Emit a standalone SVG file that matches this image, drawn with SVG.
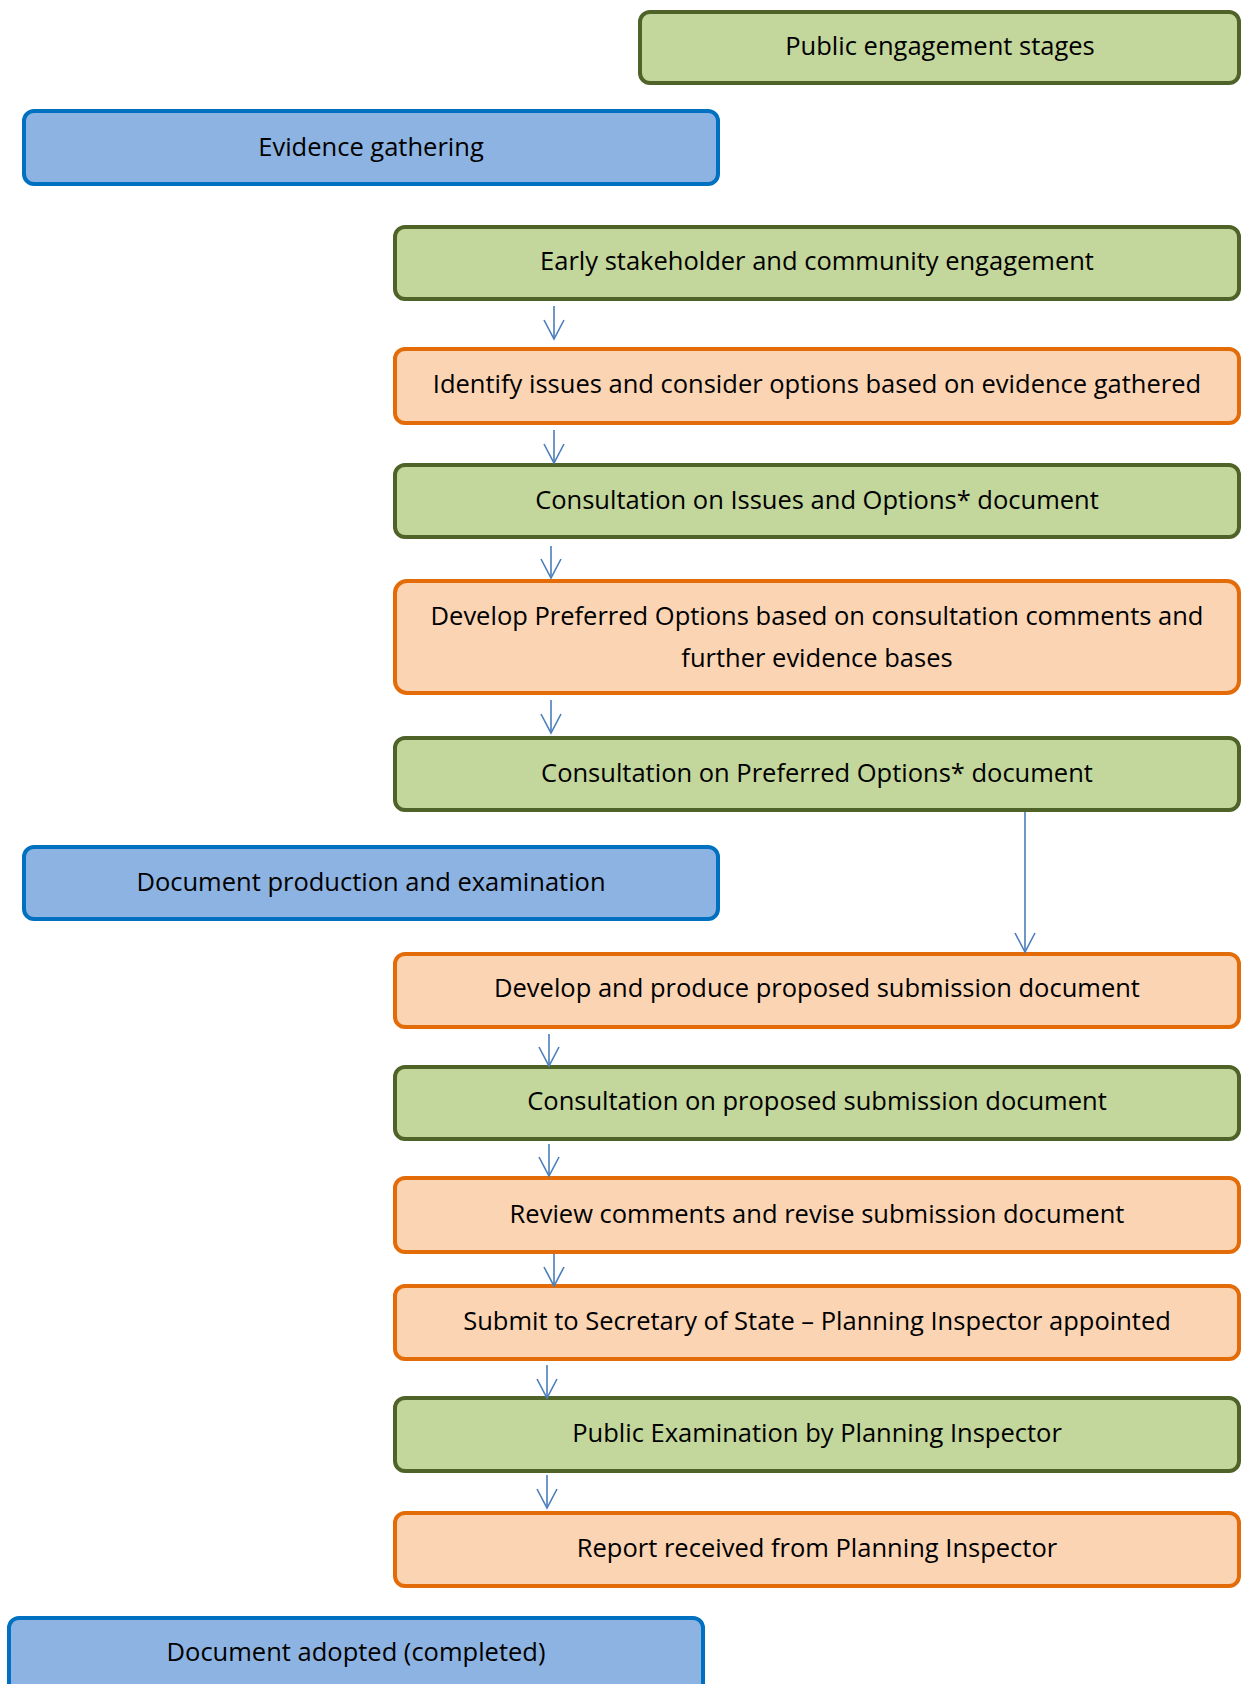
<svg xmlns="http://www.w3.org/2000/svg" width="1243" height="1684" viewBox="0 0 1243 1684">
<style>
.g{fill:#C3D69B;stroke:#4F6228;stroke-width:4}
.o{fill:#FBD4B4;stroke:#E36C09;stroke-width:4}
.b{fill:#8DB3E2;stroke:#0070C0;stroke-width:4}
text{font-family:"Open Sans","Noto Sans",sans-serif;font-size:25.5px;fill:#000;text-anchor:middle}
.c line{stroke:#4A7EBB;stroke-width:1.6}
.c path{fill:none;stroke:#4A7EBB;stroke-width:1.6}
</style>
<rect width="1243" height="1684" fill="#fff"/>
<g id="n_public"><rect class="g" x="640" y="12" width="599" height="71" rx="10"/><text x="940" y="55">Public engagement stages</text></g>
<g id="n_evidence"><rect class="b" x="24" y="111" width="694" height="73" rx="10"/><text x="371" y="156">Evidence gathering</text></g>
<g id="n_early"><rect class="g" x="395" y="227" width="844" height="72" rx="10"/><text x="817" y="270">Early stakeholder and community engagement</text></g>
<g id="n_identify"><rect class="o" x="395" y="349" width="844" height="74" rx="10"/><text x="817" y="393">Identify issues and consider options based on evidence gathered</text></g>
<g id="n_cons_io"><rect class="g" x="395" y="465" width="844" height="72" rx="10"/><text x="817" y="509">Consultation on Issues and Options* document</text></g>
<g id="n_develop_pref"><rect class="o" x="395" y="581" width="844" height="112" rx="12"/><text x="817" y="625">Develop Preferred Options based on consultation comments and</text><text x="817" y="667">further evidence bases</text></g>
<g id="n_cons_pref"><rect class="g" x="395" y="738" width="844" height="72" rx="10"/><text x="817" y="782">Consultation on Preferred Options* document</text></g>
<g id="n_docprod"><rect class="b" x="24" y="847" width="694" height="72" rx="10"/><text x="371" y="891">Document production and examination</text></g>
<g id="n_develop_sub"><rect class="o" x="395" y="954" width="844" height="73" rx="10"/><text x="817" y="997">Develop and produce proposed submission document</text></g>
<g id="n_cons_sub"><rect class="g" x="395" y="1067" width="844" height="72" rx="10"/><text x="817" y="1110">Consultation on proposed submission document</text></g>
<g id="n_review"><rect class="o" x="395" y="1178" width="844" height="74" rx="10"/><text x="817" y="1223">Review comments and revise submission document</text></g>
<g id="n_submit"><rect class="o" x="395" y="1286" width="844" height="73" rx="10"/><text x="817" y="1330">Submit to Secretary of State – Planning Inspector appointed</text></g>
<g id="n_exam"><rect class="g" x="395" y="1398" width="844" height="73" rx="10"/><text x="817" y="1442">Public Examination by Planning Inspector</text></g>
<g id="n_report"><rect class="o" x="395" y="1513" width="844" height="73" rx="10"/><text x="817" y="1557">Report received from Planning Inspector</text></g>
<g id="n_adopted"><rect class="b" x="9" y="1618" width="694" height="80" rx="10"/><text x="356" y="1661">Document adopted (completed)</text></g>
<g class="c" id="connectors">
<line x1="554" y1="306" x2="554" y2="339"/><path d="M544,320 L554,339 L564,320"/>
<line x1="554" y1="430" x2="554" y2="463"/><path d="M544,444 L554,463 L564,444"/>
<line x1="551" y1="546" x2="551" y2="578"/><path d="M541,559 L551,578 L561,559"/>
<line x1="551" y1="700" x2="551" y2="733"/><path d="M541,714 L551,733 L561,714"/>
<line x1="1025" y1="812" x2="1025" y2="952"/><path d="M1015,933 L1025,952 L1035,933"/>
<line x1="549" y1="1034" x2="549" y2="1066"/><path d="M539,1047 L549,1066 L559,1047"/>
<line x1="549" y1="1144" x2="549" y2="1176"/><path d="M539,1157 L549,1176 L559,1157"/>
<line x1="554" y1="1254" x2="554" y2="1286"/><path d="M544,1267 L554,1286 L564,1267"/>
<line x1="547" y1="1365" x2="547" y2="1398"/><path d="M537,1379 L547,1398 L557,1379"/>
<line x1="547" y1="1475" x2="547" y2="1508"/><path d="M537,1489 L547,1508 L557,1489"/>
</g>
</svg>
